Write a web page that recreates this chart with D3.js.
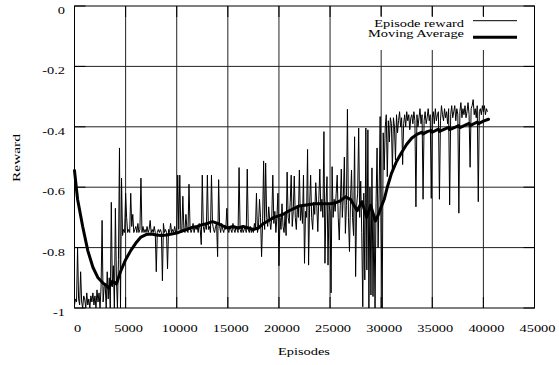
<!DOCTYPE html>
<html>
<head>
<meta charset="utf-8">
<script src="https://cdn.jsdelivr.net/npm/d3@7/dist/d3.min.js"></script>
<style>
  body { margin: 0; background: #fff; }
  text { font-family: "Liberation Serif", "Times New Roman", serif; font-size: 11px; fill: #000; }
</style>
</head>
<body>
<svg id="chart" width="559" height="365"></svg>
<script>
// Episode reward, one value every 100 episodes (rows of 1000 episodes)
const rewardStep = 100;
const episodeReward = [
  -0.99,-0.97,-0.98,-0.80,-0.97,-0.99,-0.88,-0.98,-1.0,-0.96,
  -0.97,-1.0,-0.95,-0.99,-0.97,-1.0,-0.96,-0.98,-0.95,-0.99,
  -0.96,-1.0,-0.94,-0.98,-0.95,-1.0,-0.93,-0.71,-0.98,-0.93,
  -0.92,-1.0,-0.88,-0.97,-0.90,-1.0,-0.65,-0.93,-0.86,-1.0,
  -0.67,-0.90,-1.0,-0.84,-0.47,-1.0,-0.57,-0.76,-0.74,-0.75,
  -0.62,-0.70,-0.75,-0.74,-0.75,-0.62,-0.73,-0.69,-0.75,-0.74,
  -0.73,-0.75,-0.72,-0.75,-0.74,-0.57,-0.75,-0.73,-0.75,-0.74,
  -0.75,-0.73,-0.75,-0.74,-0.71,-0.75,-0.74,-0.75,-0.73,-0.75,
  -0.88,-0.75,-0.74,-0.75,-0.74,-0.75,-0.91,-0.72,-0.75,-0.74,
  -0.75,-0.87,-0.74,-0.75,-0.72,-0.75,-0.74,-0.75,-0.73,-0.75,
  -0.75,-0.56,-0.74,-0.56,-0.74,-0.75,-0.63,-0.74,-0.75,-0.69,
  -0.74,-0.75,-0.59,-0.73,-0.75,-0.74,-0.72,-0.75,-0.73,-0.74,
  -0.73,-0.75,-0.72,-0.74,-0.79,-0.56,-0.73,-0.75,-0.72,-0.74,
  -0.56,-0.74,-0.73,-0.75,-0.56,-0.72,-0.74,-0.75,-0.73,-0.72,
  -0.83,-0.575,-0.73,-0.75,-0.72,-0.74,-0.75,-0.73,-0.74,-0.67,
  -0.74,-0.75,-0.73,-0.74,-0.75,-0.72,-0.74,-0.75,-0.73,-0.74,
  -0.75,-0.535,-0.74,-0.75,-0.73,-0.75,-0.74,-0.73,-0.75,-0.54,
  -0.74,-0.75,-0.73,-0.75,-0.74,-0.75,-0.72,-0.74,-0.62,-0.75,
  -0.73,-0.64,-0.70,-0.83,-0.72,-0.513,-0.74,-0.52,-0.70,-0.73,
  -0.665,-0.71,-0.74,-0.70,-0.56,-0.72,-0.68,-0.75,-0.70,-0.62,
  -0.86,-0.70,-0.74,-0.655,-0.73,-0.75,-0.69,-0.76,-0.55,-0.70,
  -0.72,-0.65,-0.56,-0.73,-0.68,-0.563,-0.70,-0.74,-0.66,-0.70,
  -0.543,-0.71,-0.66,-0.72,-0.56,-0.852,-0.68,-0.70,-0.475,-0.858,
  -0.66,-0.56,-0.70,-0.74,-0.65,-0.69,-0.585,-0.66,-0.747,-0.64,
  -0.54,-0.68,-0.64,-0.70,-0.416,-0.852,-0.66,-0.565,-0.858,-0.66,
  -0.68,-0.95,-0.532,-0.70,-0.64,-0.68,-0.62,-0.56,-0.70,-0.775,
  -0.66,-0.54,-0.70,-0.63,-0.50,-0.753,-0.66,-0.342,-0.70,-0.813,
  -0.64,-0.543,-0.70,-0.76,-0.433,-0.896,-0.66,-0.62,-0.404,-0.70,
  -0.58,-0.75,-0.996,-0.62,-0.907,-0.404,-0.874,-0.41,-1.0,-0.60,
  -0.957,-0.536,-0.962,-0.70,-1.0,-0.65,-0.47,-0.80,-0.62,-0.366,
  -0.75,-1.0,-0.42,-0.543,-0.40,-0.36,-0.565,-0.38,-0.45,-0.37,
  -0.39,-0.543,-0.37,-0.40,-0.51,-0.36,-0.42,-0.38,-0.35,-0.40,
  -0.37,-0.525,-0.39,-0.36,-0.40,-0.35,-0.38,-0.36,-0.41,-0.37,
  -0.36,-0.39,-0.35,-0.38,-0.665,-0.36,-0.40,-0.37,-0.34,-0.39,
  -0.36,-0.64,-0.38,-0.35,-0.39,-0.37,-0.34,-0.38,-0.36,-0.637,
  -0.37,-0.35,-0.39,-0.34,-0.38,-0.36,-0.35,-0.64,-0.38,-0.33,
  -0.36,-0.38,-0.34,-0.37,-0.35,-0.39,-0.34,-0.659,-0.36,-0.33,
  -0.37,-0.35,-0.33,-0.38,-0.34,-0.36,-0.686,-0.35,-0.32,-0.37,
  -0.34,-0.36,-0.33,-0.37,-0.35,-0.32,-0.36,-0.534,-0.34,-0.33,
  -0.31,-0.36,-0.34,-0.37,-0.33,-0.648,-0.35,-0.34,-0.36,-0.33,
  -0.35,-0.33,-0.36,-0.34,-0.35
];

// Moving average of the reward
const maEpisodes = [
  0,300,800,1300,1800,2300,2800,3100,3350,3700,4100,4500,5000,5500,6000,6500,
  7000,7500,8000,8500,9000,9500,10000,10500,11000,11500,12000,12500,13000,13500,
  14000,14500,15000,15500,16000,16500,17000,17500,18000,18500,19000,19500,20000,
  20500,21000,21500,22000,22500,23000,23500,24000,24500,25000,25500,26000,26500,
  27000,27650,28120,28570,28980,29430,29800,30000,30300,30600,31000,31500,32000,
  32500,33000,33500,34000,34100,34500,34900,35000,35600,35700,36600,36700,37600,
  37700,38600,38700,39400,39500,40000,40500
];
const maValues = [
  -0.545,-0.64,-0.73,-0.81,-0.865,-0.90,-0.918,-0.925,-0.935,-0.912,-0.92,-0.88,-0.84,-0.81,-0.785,-0.765,
  -0.757,-0.755,-0.758,-0.76,-0.758,-0.755,-0.752,-0.745,-0.74,-0.733,-0.73,-0.724,-0.72,-0.714,
  -0.72,-0.728,-0.735,-0.73,-0.735,-0.73,-0.735,-0.74,-0.735,-0.72,-0.71,-0.70,-0.695,
  -0.688,-0.678,-0.67,-0.662,-0.66,-0.657,-0.655,-0.655,-0.655,-0.655,-0.652,-0.645,-0.632,
  -0.64,-0.678,-0.648,-0.70,-0.66,-0.712,-0.685,-0.665,-0.64,-0.60,-0.555,-0.515,-0.485,
  -0.458,-0.437,-0.425,-0.418,-0.424,-0.416,-0.412,-0.418,-0.408,-0.415,-0.402,-0.409,-0.396,
  -0.403,-0.389,-0.396,-0.384,-0.39,-0.381,-0.375
];

const xTicks = [0,5000,10000,15000,20000,25000,30000,35000,40000,45000];
const xTickLabels = ["0","5000","10000","15000","20000","25000","30000","35000","40000","45000"];
const yTicks = [0,-0.2,-0.4,-0.6,-0.8,-1];
const yTickLabels = ["0","-0.2","-0.4","-0.6","-0.8","-1"];
const seriesNames = ["Episode reward","Moving Average"];
const xTitle = "Episodes";
const yTitle = "Reward";

const svg = d3.select("#chart");
const plot = { left: 74.5, right: 534.5, top: 6, bottom: 308 };
const x = d3.scaleLinear().domain([0, 45000]).range([plot.left, plot.right]);
const y = d3.scaleLinear().domain([-1, 0]).range([plot.bottom, plot.top]);

// the lettering runs wide: work out the horizontal stretch from the x title
const probe = svg.append("text").text(xTitle);
const stretch = 52 / probe.node().getComputedTextLength();
probe.text(yTitle);
const yStretch = 48 / probe.node().getComputedTextLength();
probe.remove();

// grid
const grid = svg.append("g").attr("stroke", "#222").attr("stroke-width", 1);
grid.selectAll("line.gx").data(xTicks.slice(1, -1)).join("line")
  .attr("x1", d => x(d)).attr("x2", d => x(d))
  .attr("y1", plot.top).attr("y2", plot.bottom);
grid.selectAll("line.gy").data(yTicks.slice(1, -1)).join("line")
  .attr("x1", plot.left).attr("x2", plot.right)
  .attr("y1", d => y(d)).attr("y2", d => y(d));

// episode reward
const rewardLine = d3.line()
  .x((d, i) => x(i * rewardStep))
  .y(d => y(d));
svg.append("path").datum(episodeReward)
  .attr("d", rewardLine)
  .attr("fill", "none").attr("stroke", "#000").attr("stroke-width", 1);

// moving average
const maLine = d3.line()
  .x((d, i) => x(maEpisodes[i]))
  .y(d => y(d));
svg.append("path").datum(maValues)
  .attr("d", maLine)
  .attr("fill", "none").attr("stroke", "#000").attr("stroke-width", 3)
  .attr("stroke-linejoin", "round").attr("stroke-linecap", "round");

// key
svg.append("rect").attr("x", 362).attr("y", 16).attr("width", plot.right - 362 - 0.5).attr("height", 34)
  .attr("fill", "#fff");
const keyRows = [
  { name: seriesNames[0], ty: 27, ly: 20.7, w: 1 },
  { name: seriesNames[1], ty: 36.7, ly: 37.3, w: 3 }
];
keyRows.forEach(k => {
  svg.append("text").attr("transform", `translate(464,${k.ty}) scale(${stretch},1)`)
    .attr("text-anchor", "end").text(k.name);
  svg.append("line").attr("x1", 473).attr("x2", 517).attr("y1", k.ly).attr("y2", k.ly)
    .attr("stroke", "#000").attr("stroke-width", k.w);
});

// tick marks on the frame
const tk = svg.append("g").attr("stroke", "#000").attr("stroke-width", 1);
xTicks.forEach(v => {
  tk.append("line").attr("x1", x(v)).attr("x2", x(v)).attr("y1", plot.top).attr("y2", plot.top + 11);
  tk.append("line").attr("x1", x(v)).attr("x2", x(v)).attr("y1", plot.bottom).attr("y2", plot.bottom - 11);
});
yTicks.forEach(v => {
  tk.append("line").attr("x1", plot.left).attr("x2", plot.left + 11).attr("y1", y(v)).attr("y2", y(v));
  tk.append("line").attr("x1", plot.right).attr("x2", plot.right - 11).attr("y1", y(v)).attr("y2", y(v));
});

// frame
svg.append("rect").attr("x", plot.left).attr("y", plot.top)
  .attr("width", plot.right - plot.left).attr("height", plot.bottom - plot.top)
  .attr("fill", "none").attr("stroke", "#000").attr("stroke-width", 1);

// tick labels
xTicks.forEach((v, i) => {
  svg.append("text").attr("transform", `translate(${x(v) + 3},332) scale(${stretch},1)`)
    .attr("text-anchor", "middle").text(xTickLabels[i]);
});
yTicks.forEach((v, i) => {
  svg.append("text").attr("transform", `translate(65,${y(v) + 8}) scale(${stretch},1)`)
    .attr("text-anchor", "end").text(yTickLabels[i]);
});

// axis titles
svg.append("text").attr("transform", `translate(304,355) scale(${stretch},1)`)
  .attr("text-anchor", "middle").text(xTitle);
svg.append("text").attr("transform", `translate(20,158) rotate(-90) scale(${yStretch},1)`)
  .attr("text-anchor", "middle").text(yTitle);
</script>
</body>
</html>
